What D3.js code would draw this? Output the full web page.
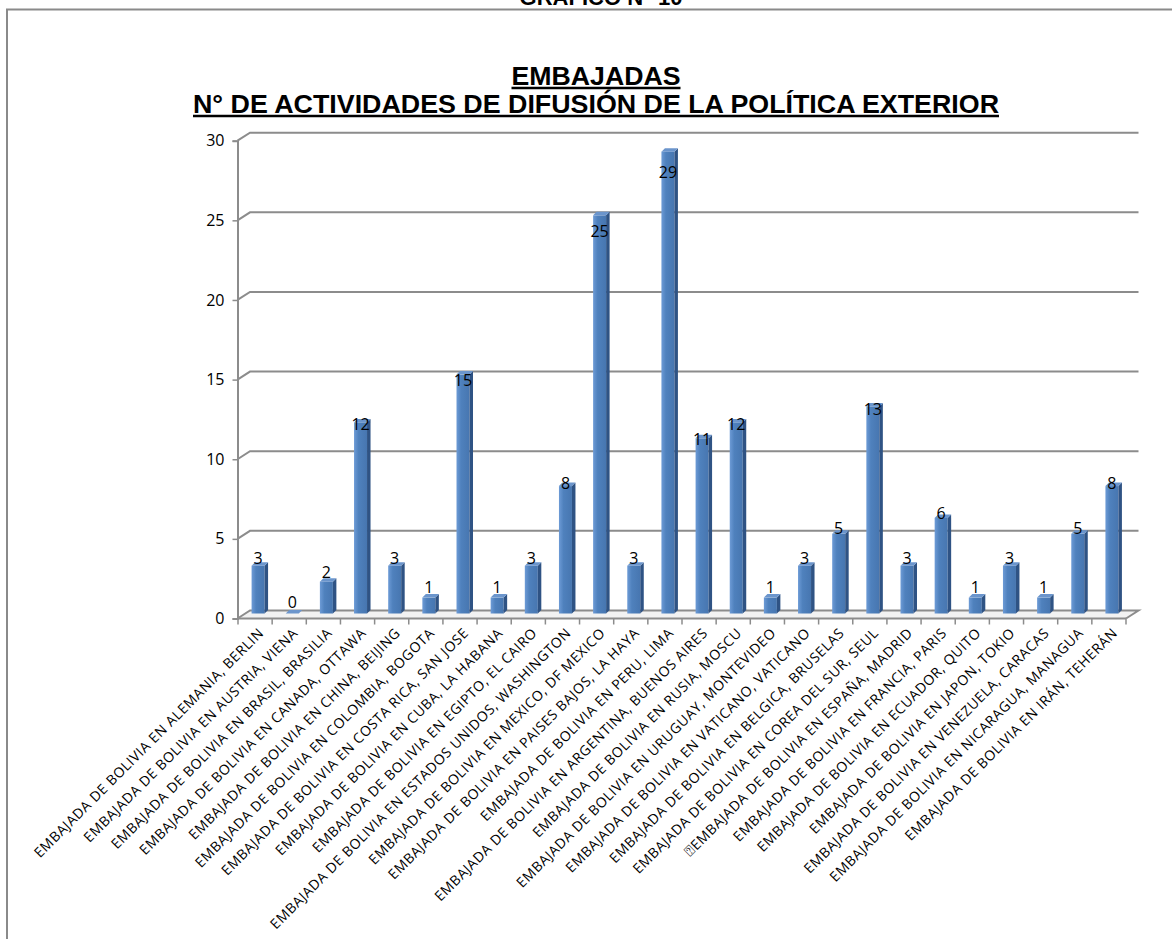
<!DOCTYPE html>
<html>
<head>
<meta charset="utf-8">
<script src="https://cdn.jsdelivr.net/npm/d3@7"></script>
<style>
  body { margin: 0; background: #fff; }
  svg { display: block; }
</style>
</head>
<body>
<div id="chart"></div>
<script>
const categories = [
  "EMBAJADA DE BOLIVIA EN ALEMANIA, BERLIN",
  "EMBAJADA DE BOLIVIA EN AUSTRIA, VIENA",
  "EMBAJADA DE BOLIVIA EN BRASIL, BRASILIA",
  "EMBAJADA DE BOLIVIA EN CANADA, OTTAWA",
  "EMBAJADA DE BOLIVIA EN CHINA, BEIJING",
  "EMBAJADA DE BOLIVIA EN COLOMBIA, BOGOTA",
  "EMBAJADA DE BOLIVIA EN COSTA RICA, SAN JOSE",
  "EMBAJADA DE BOLIVIA EN CUBA, LA HABANA",
  "EMBAJADA DE BOLIVIA EN EGIPTO, EL CAIRO",
  "EMBAJADA DE BOLIVIA EN ESTADOS UNIDOS, WASHINGTON",
  "EMBAJADA DE BOLIVIA EN MEXICO, DF MEXICO",
  "EMBAJADA DE BOLIVIA EN PAISES BAJOS, LA HAYA",
  "EMBAJADA DE BOLIVIA EN PERU, LIMA",
  "EMBAJADA DE BOLIVIA EN ARGENTINA, BUENOS AIRES",
  "EMBAJADA DE BOLIVIA EN RUSIA, MOSCU",
  "EMBAJADA DE BOLIVIA EN URUGUAY, MONTEVIDEO",
  "EMBAJADA DE BOLIVIA EN VATICANO, VATICANO",
  "EMBAJADA DE BOLIVIA EN BELGICA, BRUSELAS",
  "EMBAJADA DE BOLIVIA EN COREA DEL SUR, SEUL",
  "\u2370EMBAJADA DE BOLIVIA EN ESPAÑA, MADRID",
  "EMBAJADA DE BOLIVIA EN FRANCIA, PARIS",
  "EMBAJADA DE BOLIVIA EN ECUADOR, QUITO",
  "EMBAJADA DE BOLIVIA EN JAPON, TOKIO",
  "EMBAJADA DE BOLIVIA EN VENEZUELA, CARACAS",
  "EMBAJADA DE BOLIVIA EN NICARAGUA, MANAGUA",
  "EMBAJADA DE BOLIVIA EN IRÁN, TEHERÁN"
];
const values = [3, 0, 2, 12, 3, 1, 15, 1, 3, 8, 25, 3, 29, 11, 12, 1, 3, 5, 13, 3, 6, 1, 3, 1, 5, 8];
const yTicks = [0, 5, 10, 15, 20, 25, 30];

const width = 1172, height = 939;
const svg = d3.select("#chart").append("svg")
    .attr("width", width)
    .attr("height", height);

const defs = svg.append("defs");
const grad = defs.append("linearGradient").attr("id", "barFront")
    .attr("x1", "0%").attr("x2", "100%").attr("y1", "0%").attr("y2", "0%");
grad.append("stop").attr("offset", "0%").attr("stop-color", "#6d9bd6");
grad.append("stop").attr("offset", "35%").attr("stop-color", "#4f81bd");
grad.append("stop").attr("offset", "100%").attr("stop-color", "#4776b0");

// frame around the chart
svg.append("path")
    .attr("d", "M7,940 L7,9.5 L1172,9.5")
    .attr("fill", "none")
    .attr("stroke", "#8a8a8a")
    .attr("stroke-width", 2);

// page heading, cut by the top edge as in the original scan
svg.append("text")
    .attr("x", 601).attr("y", 5)
    .attr("text-anchor", "middle")
    .style("font-family", "Liberation Sans, Arial, sans-serif")
    .style("font-weight", "bold")
    .style("font-size", "22px")
    .text("GRAFICO N° 10");

// titles
const titles = [
  {text: "EMBAJADAS", y: 85, w: 169},
  {text: "N° DE ACTIVIDADES DE DIFUSIÓN DE LA POLÍTICA EXTERIOR", y: 113, w: 806}
];
titles.forEach(t => {
    svg.append("text")
        .attr("x", 596).attr("y", t.y)
        .attr("text-anchor", "middle")
        .attr("textLength", t.w)
        .attr("lengthAdjust", "spacingAndGlyphs")
        .style("font-family", "Liberation Sans, Arial, sans-serif")
        .style("font-weight", "bold")
        .style("font-size", "26px")
        .text(t.text);
    svg.append("line")
        .attr("x1", 596 - t.w / 2).attr("x2", 596 + t.w / 2)
        .attr("y1", t.y + 3).attr("y2", t.y + 3)
        .attr("stroke", "#000").attr("stroke-width", 2.5);
});

const x = d3.scaleBand().domain(categories).range([238, 1126]);
const y = d3.scaleLinear().domain([0, 30]).range([618.5, 140.7]);
const bw = x.bandwidth();

// depth of the 3D box
const dx = 12.5, dy = -8;

const grid = svg.append("g")
    .attr("fill", "none")
    .attr("stroke", "#8c8c8c")
    .attr("stroke-width", 2);

// floor
grid.append("path")
    .attr("d", `M237.5,${y(0)} L${237.5 + dx},${y(0) + dy} L${x.range()[1] + dx},${y(0) + dy} L${x.range()[1]},${y(0)}`)
    .attr("fill", "#f2f2f2");

// gridlines on the walls
grid.selectAll(".g")
    .data(yTicks.filter(d => d > 0))
    .join("path")
    .attr("d", d => `M237.5,${y(d)} L${237.5 + dx},${y(d) + dy} L${x.range()[1] + dx},${y(d) + dy}`);

// y axis
const yAxis = svg.append("g")
    .attr("transform", "translate(237.5,0)")
    .call(d3.axisLeft(y).tickValues(yTicks).tickSize(5).tickPadding(8));
yAxis.select(".domain").attr("stroke", "#8c8c8c").attr("stroke-width", 2);
yAxis.selectAll(".tick line").attr("stroke", "#8c8c8c").attr("stroke-width", 1.5);
yAxis.selectAll(".tick text")
    .style("font-family", "Open Sans, sans-serif")
    .style("font-size", "16px")
    .attr("fill", "#000");

// x axis: front floor edge and ticks
const xAxis = svg.append("g")
    .attr("transform", `translate(0,${y(0)})`);
xAxis.append("line")
    .attr("x1", 237.5).attr("x2", x.range()[1])
    .attr("stroke", "#8c8c8c").attr("stroke-width", 2);
xAxis.selectAll(".xt")
    .data(categories.concat([null]))
    .join("line")
    .attr("x1", (d, i) => x.range()[0] + i * bw)
    .attr("x2", (d, i) => x.range()[0] + i * bw)
    .attr("y1", 0).attr("y2", 6)
    .attr("stroke", "#8c8c8c").attr("stroke-width", 1.5);

// bars (front, side, top)
const barW = 13, sideW = 3.5, topH = 3.5, off = 3, base = -5;
const bars = svg.append("g").selectAll("g")
    .data(categories.map((c, i) => ({c, v: values[i]})))
    .join("g")
    .attr("transform", d => `translate(${x(d.c) + bw / 2 + off - barW / 2},0)`);

bars.append("rect")
    .attr("x", 0).attr("width", barW)
    .attr("y", d => y(d.v) + base)
    .attr("height", d => y(0) - y(d.v))
    .attr("fill", "url(#barFront)");
bars.append("path")
    .attr("d", d => `M${barW},${y(d.v) + base} L${barW + sideW},${y(d.v) + base - topH} L${barW + sideW},${y(0) + base - topH} L${barW},${y(0) + base} Z`)
    .attr("fill", "#2f5384");
bars.append("path")
    .attr("d", d => `M0,${y(d.v) + base} L${sideW},${y(d.v) + base - topH} L${barW + sideW},${y(d.v) + base - topH} L${barW},${y(d.v) + base} Z`)
    .attr("fill", "#6b95cc");

// value labels: placed as in the 3D projection of the original
const labelY = d3.scaleLinear().domain([0, 30]).range([y(0) - 16, y(30) + 17]);
svg.append("g").selectAll("text")
    .data(categories.map((c, i) => ({c, v: values[i]})))
    .join("text")
    .attr("x", d => x(d.c) + bw / 2 + off)
    .attr("y", d => labelY(d.v))
    .attr("dy", "0.35em")
    .attr("text-anchor", "middle")
    .style("font-family", "Open Sans, sans-serif")
    .style("font-size", "16px")
    .text(d => d.v);

// category labels
svg.append("g").selectAll("text")
    .data(categories)
    .join("text")
    .attr("transform", d => `translate(${x(d) + bw / 2 + 6},${y(0) + 12}) rotate(-45)`)
    .attr("text-anchor", "end")
    .attr("dy", "0.35em")
    .style("font-family", "Open Sans, sans-serif")
    .style("font-size", "14px")
    .style("letter-spacing", "0.55px")
    .text(d => d);
</script>
</body>
</html>
